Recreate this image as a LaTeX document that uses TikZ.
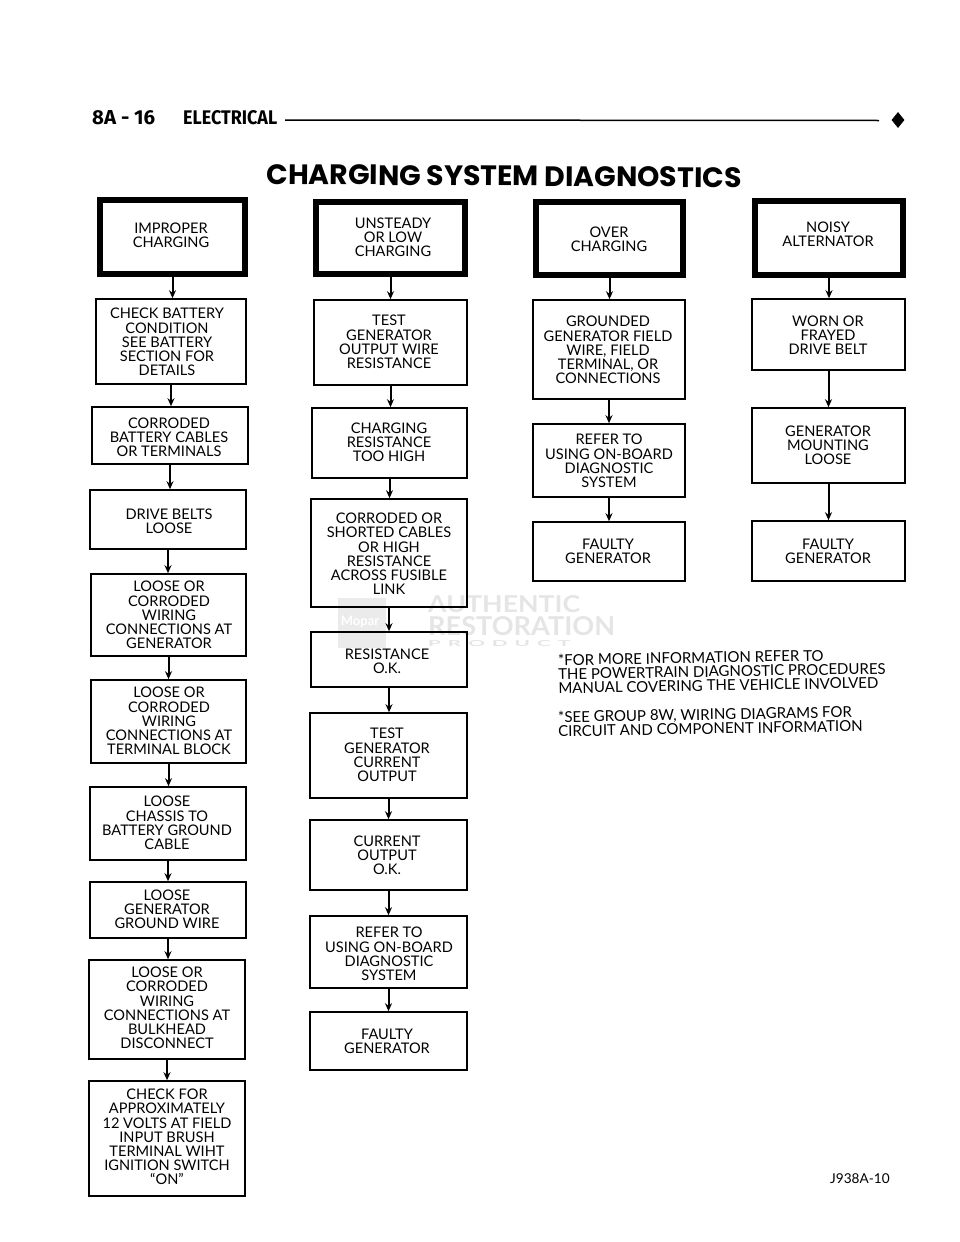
\documentclass[tikz,border=0pt]{standalone}
\usepackage{fontspec}
\usepackage{graphicx}
\setmainfont{Lato}
\newfontfamily\headfont{Fira Sans}[UprightFont=*,BoldFont=* Bold]
\newfontfamily\titlefont{Poppins}[UprightFont=*,BoldFont=* Bold]
\usetikzlibrary{calc,arrows.meta,shapes.geometric}
\tikzset{
  boxthin/.style={draw=black,line width=1.6pt,inner sep=0pt},
  boxthick/.style={draw=black,line width=6pt,inner sep=0pt},
  txt/.style={align=center,font=\fontsize{14.6}{14.2}\selectfont,inner sep=0pt,text=black},
  note/.style={anchor=west,align=left,font=\fontsize{15}{14}\selectfont,inner sep=0pt,rotate=1,text=black},
  arr/.style={line width=2pt,-{Stealth[length=8pt,width=7pt]}},
  wm/.style={text=black!10,font=\bfseries,inner sep=0pt}
}
% style, name, x1,y1,x2,y2, textx, texty, text
\newcommand{\bx}[9]{%
  \node[#1,minimum width=#5pt-#3pt,minimum height=#6pt-#4pt] (#2) at ({(#3+#5)/2},{(#4+#6)/2}) {};
  \node[txt] (#2t) at (#7,#8) {#9};
}
\begin{document}
\begin{tikzpicture}[x=1pt,y=-1pt]
\useasboundingbox (0,0) rectangle (960,1242);
% watermark
\node[fill=black!8,minimum width=48pt,minimum height=50pt,inner sep=0pt] (wmlogo) at (362,623) {};
\node[text=white,font=\bfseries\fontsize{13}{13}\selectfont,inner sep=0pt] (wmmopar) at (360,622) {Mopar};
\node[wm,anchor=west] (wma) at (428,604.5) {\resizebox{152pt}{17pt}{AUTHENTIC}};
\node[wm,anchor=west] (wmb) at (428,626.5) {\resizebox{187pt}{19pt}{RESTORATION}};
\node[wm,anchor=west] (wmc) at (428,644) {\resizebox{142pt}{6pt}{P\,\,R\,\,O\,\,D\,\,U\,\,C\,\,T}};
% header
\node[anchor=west,inner sep=0pt,font=\headfont\bfseries] (hnum) at (92,118) {\resizebox{63pt}{14pt}{8A - 16}};
\node[anchor=west,inner sep=0pt,font=\headfont\bfseries] (hele) at (183,118) {\resizebox{94pt}{14pt}{ELECTRICAL}};
\coordinate (hl) at (285,120);
\coordinate (hr) at (879,120.5);
\draw[line width=1.5pt] (hl) -- (hr);
\node[diamond,fill=black,inner sep=0pt,minimum width=13pt,minimum height=16pt,shape aspect=1] (hd) at (898,120) {};
\node[inner sep=0pt,rotate=-0.4,font=\titlefont\bfseries] (title) at (504,176) {\resizebox{475pt}{20pt}{CHARGING SYSTEM DIAGNOSTICS}};
% column 1
\bx{boxthick}{a1}{100}{200}{245}{274}{171}{235}{IMPROPER\\CHARGING}
\bx{boxthin}{a2}{96}{299}{246}{384}{167}{342}{CHECK BATTERY\\CONDITION\\SEE BATTERY\\SECTION FOR\\DETAILS}
\bx{boxthin}{a3}{92}{407}{248}{464}{169}{437}{CORRODED\\BATTERY CABLES\\OR TERMINALS}
\bx{boxthin}{a4}{90}{490}{246}{549}{169}{521}{DRIVE BELTS\\LOOSE}
\bx{boxthin}{a5}{91}{574}{246}{656}{169}{615}{LOOSE OR\\CORRODED\\WIRING\\CONNECTIONS AT\\GENERATOR}
\bx{boxthin}{a6}{91}{680}{246}{763}{169}{721}{LOOSE OR\\CORRODED\\WIRING\\CONNECTIONS AT\\TERMINAL BLOCK}
\bx{boxthin}{a7}{90}{787}{246}{860}{167}{823}{LOOSE\\CHASSIS TO\\BATTERY GROUND\\CABLE}
\bx{boxthin}{a8}{90}{882}{246}{938}{167}{909}{LOOSE\\GENERATOR\\GROUND WIRE}
\bx{boxthin}{a9}{89}{960}{245}{1059}{167}{1008}{LOOSE OR\\CORRODED\\WIRING\\CONNECTIONS AT\\BULKHEAD\\DISCONNECT}
\bx{boxthin}{a10}{89}{1081}{245}{1196}{167}{1137}{CHECK FOR\\APPROXIMATELY\\12 VOLTS AT FIELD\\INPUT BRUSH\\TERMINAL WIHT\\IGNITION SWITCH\\``ON''}
% column 2
\bx{boxthick}{b1}{316}{202}{465}{274}{393}{237}{UNSTEADY\\OR LOW\\CHARGING}
\bx{boxthin}{b2}{314}{300}{467}{385}{389}{342}{TEST\\GENERATOR\\OUTPUT WIRE\\RESISTANCE}
\bx{boxthin}{b3}{312}{408}{467}{478}{389}{442}{CHARGING\\RESISTANCE\\TOO HIGH}
\bx{boxthin}{b4}{311}{499}{467}{607}{389}{554}{CORRODED OR\\SHORTED CABLES\\OR HIGH\\RESISTANCE\\ACROSS FUSIBLE\\LINK}
\bx{boxthin}{b5}{311}{632}{467}{687}{387}{661}{RESISTANCE\\O.K.}
\bx{boxthin}{b6}{310}{713}{467}{798}{387}{755}{TEST\\GENERATOR\\CURRENT\\OUTPUT}
\bx{boxthin}{b7}{310}{820}{467}{890}{387}{855}{CURRENT\\OUTPUT\\O.K.}
\bx{boxthin}{b8}{310}{916}{467}{988}{389}{954}{REFER TO\\USING ON-BOARD\\DIAGNOSTIC\\SYSTEM}
\bx{boxthin}{b9}{310}{1012}{467}{1070}{387}{1041}{FAULTY\\GENERATOR}
% column 3
\bx{boxthick}{c1}{536}{202}{683}{275}{609}{239}{OVER\\CHARGING}
\bx{boxthin}{c2}{533}{300}{685}{399}{608}{350}{GROUNDED\\GENERATOR FIELD\\WIRE, FIELD\\TERMINAL, OR\\CONNECTIONS}
\bx{boxthin}{c3}{533}{424}{685}{497}{609}{461}{REFER TO\\USING ON-BOARD\\DIAGNOSTIC\\SYSTEM}
\bx{boxthin}{c4}{533}{522}{685}{581}{608}{551}{FAULTY\\GENERATOR}
% column 4
\bx{boxthick}{d1}{755}{201}{903}{275}{828}{234}{NOISY\\ALTERNATOR}
\bx{boxthin}{d2}{752}{299}{905}{370}{828}{335}{WORN OR\\FRAYED\\DRIVE BELT}
\bx{boxthin}{d3}{752}{408}{905}{483}{828}{445}{GENERATOR\\MOUNTING\\LOOSE}
\bx{boxthin}{d4}{752}{521}{905}{581}{828}{551}{FAULTY\\GENERATOR}
% connectors
\foreach \p/\q in {a1/a2,a2/a3,a3/a4,a4/a5,a5/a6,a6/a7,a7/a8,a8/a9,a9/a10,
                   b1/b2,b2/b3,b3/b4,b4/b5,b5/b6,b6/b7,b7/b8,b8/b9,
                   c1/c2,c2/c3,c3/c4,d1/d2,d2/d3,d3/d4}
  \draw[arr] (\p.south) -- (\p.south |- \q.north);
% notes
\node[note] (n1) at (558,674) {*FOR MORE INFORMATION REFER TO\\THE POWERTRAIN DIAGNOSTIC PROCEDURES\\MANUAL COVERING THE VEHICLE INVOLVED};
\node[note] (n2) at (558,724) {*SEE GROUP 8W, WIRING DIAGRAMS FOR\\CIRCUIT AND COMPONENT INFORMATION};
\node[anchor=west,inner sep=0pt,font=\fontsize{13.6}{14}\selectfont] (code) at (830,1179) {J938A-10};
\end{tikzpicture}
\end{document}
